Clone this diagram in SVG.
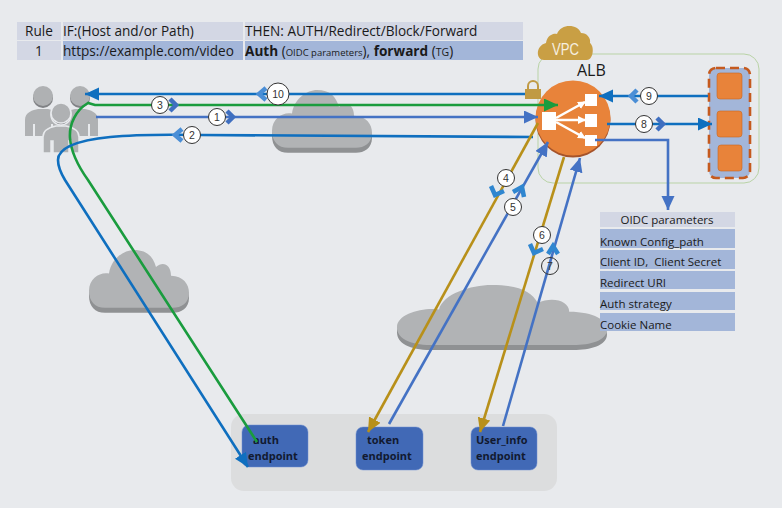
<svg xmlns="http://www.w3.org/2000/svg" width="782" height="508" viewBox="0 0 782 508">
<defs>
<marker id="aB" markerUnits="userSpaceOnUse" markerWidth="15" markerHeight="14" refX="14" refY="6.500" orient="auto"><path d="M0 0L14 6.500L0 13Z" fill="#0f6fbf"/></marker>
<marker id="aI" markerUnits="userSpaceOnUse" markerWidth="15" markerHeight="14" refX="14" refY="6.500" orient="auto"><path d="M0 0L14 6.500L0 13Z" fill="#4472c4"/></marker>
<marker id="aG" markerUnits="userSpaceOnUse" markerWidth="15" markerHeight="14" refX="14" refY="6.500" orient="auto"><path d="M0 0L14 6.500L0 13Z" fill="#1a9c3e"/></marker>
<marker id="aO" markerUnits="userSpaceOnUse" markerWidth="15" markerHeight="14" refX="14" refY="6.500" orient="auto"><path d="M0 0L14 6.500L0 13Z" fill="#b8901a"/></marker>
<marker id="aW" markerUnits="userSpaceOnUse" markerWidth="9" markerHeight="9" refX="7" refY="4" orient="auto"><path d="M0 0L8 4L0 8Z" fill="#fff"/></marker>
<path id="cloud" d="M-50 38C-50 26 -38 20 -30 22C-28 8 -15 0 -5 0C8 0 14 6 17 16C24 10 32 14 32 24C44 24 50 32 50 40C50 50 42 54 34 54H-34C-44 54 -50 48 -50 38Z"/>
<g id="user"><circle cx="0" cy="-12" r="10" fill="#808285"/><circle cx="0" cy="-14" r="10"/><path d="M-18 26V10C-18 2 -10 0 -5 -1H5C10 0 18 2 18 10V26H10V14H8V26H-8V14H-10V26Z"/></g>
</defs>
<style>
text{font-family:"Open Sans","Noto Sans",sans-serif;fill:#1a1a1a}
.t{font-size:13.6px}
.h{fill:#d3d7e4}
.b{fill:#a3b6d9}
.p{font-size:11.5px;white-space:pre}
.n{font-size:10.500px;text-anchor:middle;font-family:"Liberation Sans",sans-serif;fill:#333}
.c{fill:#fff;stroke:#333;stroke-width:1}
.l{fill:none;stroke-width:2.600}
.cl{fill:#b1b3b5}
.cs{fill:#8f9193}
.e{fill:#4169b6;stroke:#6d8fd0;stroke-width:.5}
.ep{font-size:11px;font-weight:700;fill:#121a30}
.o{fill:#e8833a;stroke:#c9671f;stroke-width:.6}
.tip{fill:none;stroke-width:4.500}
</style>
<rect width="782" height="508" fill="#e8eaed"/>
<g id="rule-table">
<rect class="h" x="17" y="22" width="44" height="18"/><rect class="h" x="63" y="22" width="180" height="18"/><rect class="h" x="245" y="22" width="278" height="18"/>
<rect class="h" x="17" y="41" width="44" height="19"/><rect class="b" x="63" y="41" width="180" height="19"/><rect class="b" x="245" y="41" width="278" height="19"/>
<text class="t" x="25" y="36">Rule</text><text class="t" x="63" y="36">IF:(Host and/or Path)</text><text class="t" x="245" y="36">THEN: AUTH/Redirect/Block/Forward</text>
<text class="t" x="35" y="56">1</text><text class="t" x="63" y="56">https://example.com/video</text>
<text class="t" x="245" y="56"><tspan font-weight="700">Auth</tspan> (<tspan font-size="9.500px">OIDC parameters</tspan>), <tspan font-weight="700">forward</tspan> (<tspan font-size="10.500px">TG</tspan>)</text>
</g>
<g id="clouds">
<use href="#cloud" class="cs" transform="translate(322 95) scale(1 1.070)"/><use href="#cloud" class="cl" transform="translate(322 90) scale(1 1.070)"/>
<use href="#cloud" class="cs" transform="translate(139 255) scale(1 1.070)"/><use href="#cloud" class="cl" transform="translate(139 250) scale(1 1.070)"/>
<use href="#cloud" class="cs" transform="translate(502 290) scale(2.100 1.110)"/><use href="#cloud" class="cl" transform="translate(502 285) scale(2.100 1.110)"/>
</g>
<g id="users" fill="#afb1b3">
<use href="#user" transform="translate(43 110)"/><use href="#user" transform="translate(80 110)"/>
<use href="#user" transform="translate(61 127)" stroke="#e8eaed" stroke-width="1.500"/>
</g>
<g id="vpc">
<rect x="538" y="54" width="221" height="129" rx="15" fill="none" stroke="#b9d3a6" stroke-width="1"/>
<path d="M544 60C536 60 535 46 546 43C547 35 554 33 557 34C561 23 578 24 581 33C587 33 591 38 590 43C595 47 593 60 587 60Z" fill="#c99f44"/>
<text x="552" y="55" font-size="17" textLength="27" lengthAdjust="spacingAndGlyphs" style="fill:#f6efe0;font-family:'Liberation Sans',sans-serif">VPC</text>
<text x="577" y="76" font-size="16">ALB</text>
</g>
<g id="lock"><path d="M528 90V86a5 5 0 0 1 10 0V90" fill="none" stroke="#c09a44" stroke-width="2"/><rect x="525" y="89" width="16" height="10" fill="#c09a44"/></g>
<g id="alb">
<circle cx="573" cy="120" r="37.500" fill="#a5532a"/><circle cx="573" cy="118" r="37.500" fill="#e8833a"/>
<rect x="542" y="112" width="14" height="18" fill="#fff"/><rect x="585" y="94" width="12" height="12" fill="#fff"/><rect x="585" y="114" width="12" height="13" fill="#fff"/><rect x="585" y="135" width="12" height="11" fill="#fff"/>
<g stroke="#fff" stroke-width="2.500"><line x1="556" y1="118" x2="585" y2="102" marker-end="url(#aW)"/><line x1="556" y1="120" x2="585" y2="120" marker-end="url(#aW)"/><line x1="556" y1="122" x2="585" y2="138" marker-end="url(#aW)"/></g>
</g>
<g id="targets">
<rect x="709" y="68" width="41" height="110" rx="7" fill="#a3b6d9" stroke="#c55a1e" stroke-width="2.600" stroke-dasharray="9 5"/>
<rect class="o" x="717" y="73" width="25" height="26" rx="3"/><rect class="o" x="717" y="111" width="25" height="26" rx="3"/><rect class="o" x="718" y="145" width="24" height="26" rx="3"/>
</g>
<g id="oidc-table">
<rect class="h" x="600" y="212" width="135" height="15"/><rect class="b" x="600" y="229" width="135" height="19"/><rect class="b" x="600" y="250" width="135" height="19"/><rect class="b" x="600" y="271" width="135" height="18"/><rect class="b" x="600" y="292" width="135" height="18"/><rect class="b" x="600" y="313" width="135" height="18"/>
<text class="p" x="667" y="224" text-anchor="middle">OIDC parameters</text>
<text class="p" x="600" y="246">Known Config_path</text><text class="p" x="600" y="266">Client ID,  Client Secret</text><text class="p" x="600" y="287">Redirect URI</text><text class="p" x="600" y="308">Auth strategy</text><text class="p" x="600" y="329">Cookie Name</text>
</g>
<g id="endpoints">
<rect x="231" y="414" width="326" height="77" rx="13" fill="#dcddde"/>
<g id="auth-endpoint"><rect class="e" x="242" y="425" width="66" height="42" rx="7"/><text class="ep" x="253" y="444">auth</text><text class="ep" x="248" y="460">endpoint</text></g>
<g id="token-endpoint"><rect class="e" x="356" y="427" width="67" height="43" rx="7"/><text class="ep" x="367" y="444">token</text><text class="ep" x="362" y="460">endpoint</text></g>
<g id="userinfo-endpoint"><rect class="e" x="471" y="427" width="66" height="43" rx="7"/><text class="ep" x="476" y="444">User_info</text><text class="ep" x="476" y="460">endpoint</text></g>
</g>
<g id="connectors">
<line class="l" stroke="#0f6fbf" x1="525" y1="94" x2="85" y2="94" marker-end="url(#aB)"/>
<path class="l" stroke="#1a9c3e" d="M257 442L88 180C78 166 71 152 70 138C69 124 76 110 88 103L95 105H558" marker-end="url(#aG)"/>
<line class="l" stroke="#4472c4" x1="96" y1="117" x2="538" y2="117" marker-end="url(#aI)"/>
<path class="l" stroke="#0f6fbf" d="M533 137L200 135C150 134 58 133 58 160C58 168 62 175 65 180L248 467" marker-end="url(#aB)"/>
<line class="l" stroke="#b8901a" x1="538" y1="123" x2="368" y2="432" marker-end="url(#aO)"/>
<line class="l" stroke="#4472c4" x1="389" y1="424" x2="548" y2="142" marker-end="url(#aI)"/>
<line class="l" stroke="#b8901a" x1="564" y1="157" x2="480" y2="432" marker-end="url(#aO)"/>
<line class="l" stroke="#4472c4" x1="503" y1="426" x2="580" y2="158" marker-end="url(#aI)"/>
<line class="l" stroke="#0f6fbf" x1="708" y1="96" x2="599" y2="96" marker-end="url(#aB)"/>
<line class="l" stroke="#0f6fbf" x1="607" y1="124" x2="712" y2="124" marker-end="url(#aB)"/>
<path class="l" stroke="#4472c4" d="M595 140H668V210" marker-end="url(#aI)"/>
<path class="tip" stroke="#4a8ed6" d="M266 88L259 94L266 100"/><path class="tip" stroke="#3f6fc0" d="M170 99L176 105L170 111"/><path class="tip" stroke="#3f6fc0" d="M227 111L233 117L227 123"/><path class="tip" stroke="#4a8ed6" d="M182 129L175 135L182 141"/>
<path class="tip" stroke="#2f86d0" d="M491 186L495 195L504 191"/><path class="tip" stroke="#2f86d0" d="M513 192L522 187L524 197"/><path class="tip" stroke="#2f86d0" d="M530 244L534 253L543 249"/><path class="tip" stroke="#2f86d0" d="M548 254L553 246L558 254"/>
<path class="tip" stroke="#4a8ed6" d="M637 90L631 96L637 102"/><path class="tip" stroke="#3f6fc0" d="M657 118L663 124L657 130"/>
</g>
<g id="badges">
<circle class="c" cx="278" cy="94" r="11"/><text class="n" x="278" y="98">10</text>
<circle class="c" cx="160" cy="105" r="8.500"/><text class="n" x="160" y="109">3</text>
<circle class="c" cx="217" cy="117" r="8.500"/><text class="n" x="217" y="121">1</text>
<circle class="c" cx="192" cy="135" r="8.500"/><text class="n" x="192" y="139">2</text>
<circle class="c" cx="506" cy="178" r="8.500"/><text class="n" x="506" y="182">4</text>
<circle class="c" cx="513" cy="207" r="8.500"/><text class="n" x="513" y="211">5</text>
<circle class="c" cx="542" cy="235" r="8.500"/><text class="n" x="542" y="239">6</text>
<circle cx="550" cy="266" r="8.500" fill="none" stroke="#333"/><text class="n" x="550" y="270">7</text>
<circle class="c" cx="644" cy="124" r="8.500"/><text class="n" x="644" y="128">8</text>
<circle class="c" cx="649" cy="96" r="8.500"/><text class="n" x="649" y="100">9</text>
</g>
</svg>
